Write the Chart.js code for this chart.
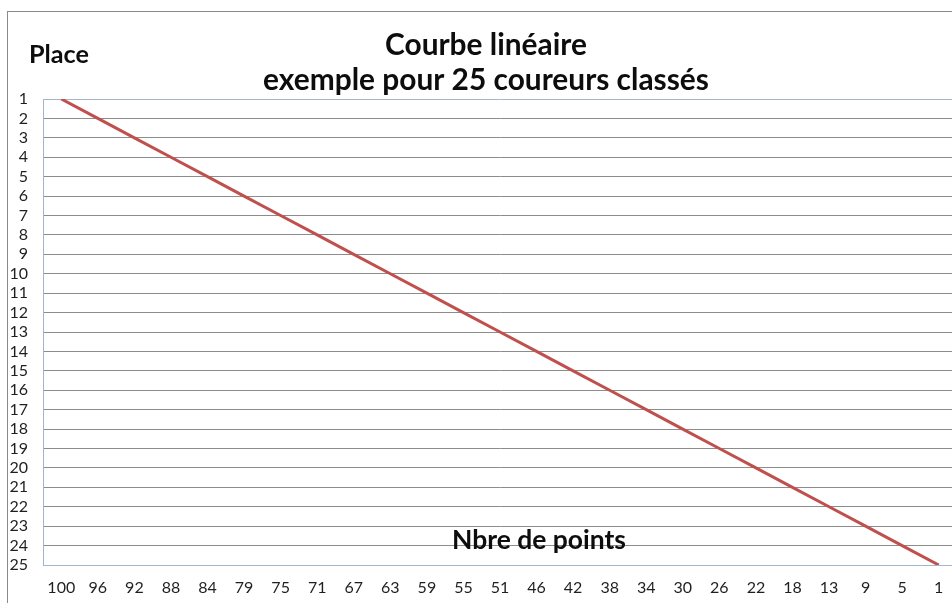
<!DOCTYPE html>
<html>
<head>
<meta charset="utf-8">
<script src="https://cdn.jsdelivr.net/npm/chart.js@4"></script>
<style>
  html, body { margin: 0; padding: 0; background: #fff; overflow: hidden; width: 952px; height: 603px; }
  #wrap { position: absolute; left: 0; top: 0; width: 960px; height: 603px; }
</style>
</head>
<body>
<div id="wrap"><canvas id="c" width="960" height="603"></canvas></div>
<script>
const categories = ['100','96','92','88','84','79','75','71','67','63','59','55','51','46','42','38','34','30','26','22','18','13','9','5','1'];
const places = [1,2,3,4,5,6,7,8,9,10,11,12,13,14,15,16,17,18,19,20,21,22,23,24,25];
const titleLines = ['Courbe linéaire', 'exemple pour 25 coureurs classés'];
const yTitle = 'Place';
const xTitle = 'Nbre de points';

const FAMILY = 'Lato, "Open Sans", sans-serif';
const AXIS_BLUE = '#a3b6cc';
const GRID_GRAY = '#8c8c8c';

function fitSize(ctx, text, weight, target) {
  ctx.font = weight + ' 100px ' + FAMILY;
  return 100 * target / ctx.measureText(text).width;
}

const textPlugin = {
  id: 'texts',
  afterDraw(chart) {
    const ctx = chart.ctx;
    ctx.save();
    // outer chart border (extends beyond the picture)
    ctx.strokeStyle = '#8a8a8a';
    ctx.lineWidth = 1;
    ctx.strokeRect(7.5, 11.5, 2000, 2000);

    ctx.fillStyle = '#0d0d0d';
    const ts = fitSize(ctx, titleLines[1], 'bold', 446);
    ctx.font = 'bold ' + ts + 'px ' + FAMILY;
    ctx.textAlign = 'center';
    ctx.textBaseline = 'alphabetic';
    ctx.fillText(titleLines[0], 486, 55);
    ctx.fillText(titleLines[1], 486, 90);

    ctx.textAlign = 'left';
    const ps = fitSize(ctx, yTitle, 'bold', 60);
    ctx.font = 'bold ' + ps + 'px ' + FAMILY;
    ctx.fillText(yTitle, 29, 63);

    const ns = fitSize(ctx, xTitle, 'bold', 174);
    ctx.font = 'bold ' + ns + 'px ' + FAMILY;
    ctx.fillText(xTitle, 452, 549);
    ctx.restore();
  }
};

new Chart(document.getElementById('c'), {
  type: 'line',
  data: {
    labels: categories,
    datasets: [{
      data: places,
      borderColor: '#c0504d',
      borderWidth: 3,
      pointRadius: 0,
      fill: false,
      tension: 0
    }]
  },
  options: {
    responsive: false,
    animation: false,
    devicePixelRatio: 1,
    layout: { padding: { top: 99, right: 3, bottom: 0, left: 0 } },
    plugins: { legend: { display: false }, title: { display: false }, tooltip: { enabled: false } },
    scales: {
      x: {
        type: 'category',
        offset: true,
        grid: { display: false, drawTicks: false },
        border: { display: true, color: AXIS_BLUE, width: 1 },
        ticks: {
          color: '#1f1f1f',
          font: { family: FAMILY, size: 16 },
          padding: 13,
          maxRotation: 0,
          autoSkip: false
        },
        afterFit(scale) { scale.height = 38; }
      },
      y: {
        reverse: true,
        min: 1,
        max: 25,
        grid: {
          drawTicks: false,
          color: (c) => (c.tick && (c.tick.value === 1 || c.tick.value === 25)) ? AXIS_BLUE : GRID_GRAY,
          lineWidth: 1
        },
        border: { display: true, color: AXIS_BLUE, width: 1 },
        ticks: {
          stepSize: 1,
          autoSkip: false,
          color: '#1f1f1f',
          font: { family: FAMILY, size: 16 },
          padding: 15
        },
        afterFit(scale) { scale.width = 43; }
      }
    }
  },
  plugins: [textPlugin]
});
</script>
</body>
</html>
